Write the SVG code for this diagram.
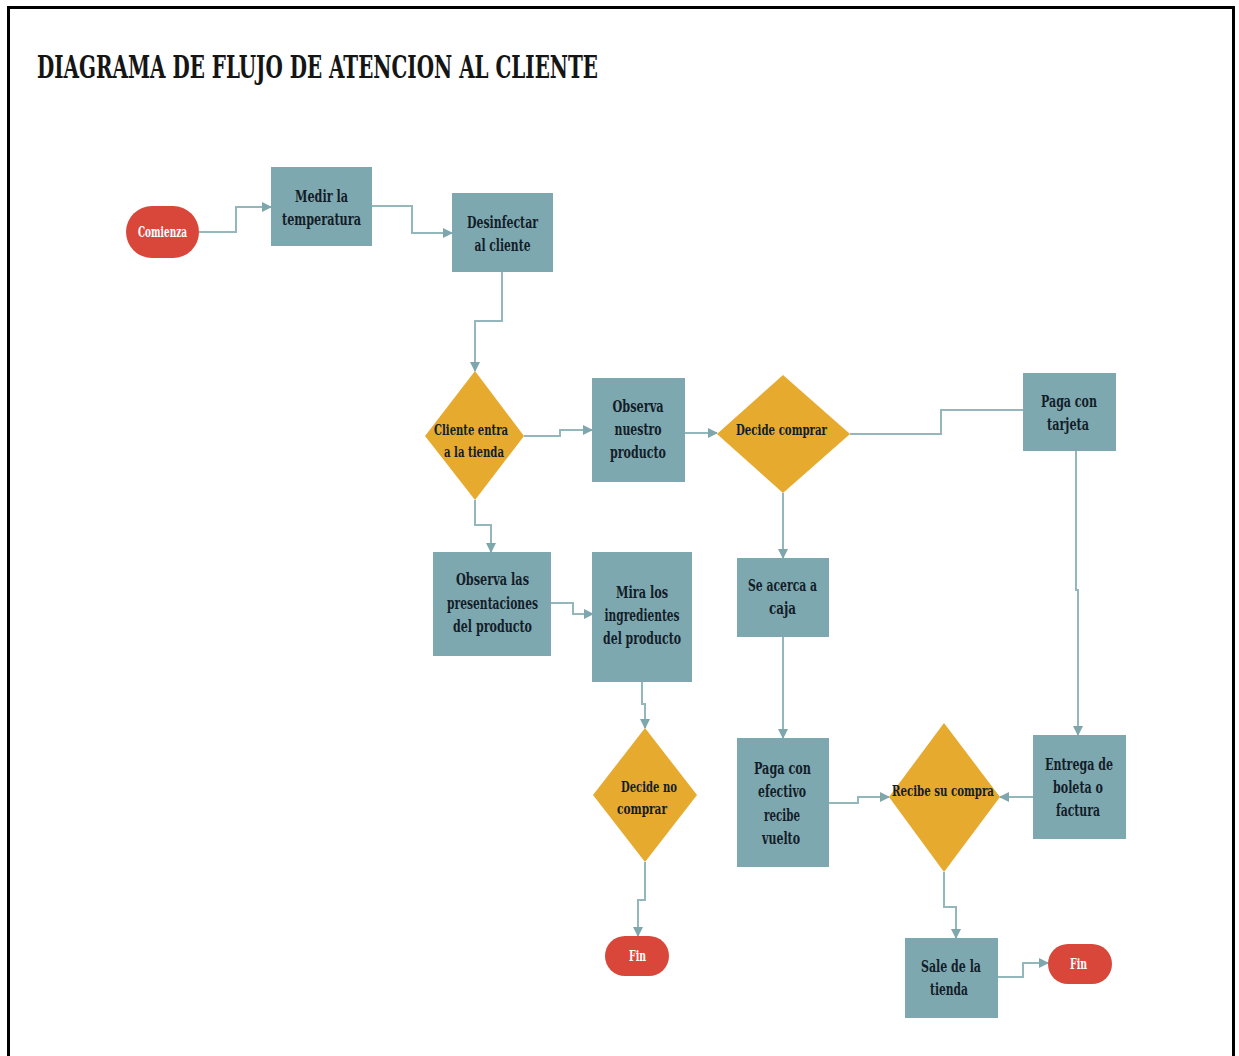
<svg xmlns="http://www.w3.org/2000/svg" width="1239" height="1056" viewBox="0 0 1239 1056">
<style>
.box{fill:#7ea8af}
.dia{fill:#e6aa2f}
.pill{fill:#d8473a}
.t{font-family:"DejaVu Serif Condensed","DejaVu Serif","Liberation Serif",serif;font-weight:bold;font-size:17px;fill:#131d29}
.d{font-size:15px}
.w{font-family:"DejaVu Serif Condensed","DejaVu Serif","Liberation Serif",serif;font-weight:bold;font-size:14px;fill:#ffffff}
.title{font-family:"DejaVu Serif Condensed","DejaVu Serif","Liberation Serif",serif;font-weight:bold;font-size:32px;fill:#151515}
.c{fill:none;stroke:#94b7bc;stroke-width:2}
</style>
<defs>
<marker id="ah" viewBox="0 0 10 10" refX="9" refY="5" markerWidth="10" markerHeight="10" markerUnits="userSpaceOnUse" orient="auto">
<path d="M0,0 L10,5 L0,10 Z" fill="#7ea6ad"/>
</marker>
</defs>
<rect x="0" y="0" width="1239" height="1056" fill="#ffffff"/>
<path d="M8.5,1060 V7.5 H1233.5 V1060" fill="none" stroke="#000000" stroke-width="3"/>
<text class="title" x="37" y="78" textLength="561" lengthAdjust="spacingAndGlyphs">DIAGRAMA DE FLUJO DE ATENCION AL CLIENTE</text>

<g id="connectors">
<path class="c" d="M199,232 H236 V207 H271" marker-end="url(#ah)"/>
<path class="c" d="M372,206 H412 V233 H452" marker-end="url(#ah)"/>
<path class="c" d="M502,272 V321 H475 V371" marker-end="url(#ah)"/>
<path class="c" d="M524,436 H560 V430 H592" marker-end="url(#ah)"/>
<path class="c" d="M685,433 H717" marker-end="url(#ah)"/>
<path class="c" d="M850,434 H941 V410 H1023"/>
<path class="c" d="M1076,451 V590 H1078 V735" marker-end="url(#ah)"/>
<path class="c" d="M475,500 V525 H491 V552" marker-end="url(#ah)"/>
<path class="c" d="M551,603 H573 V614 H593" marker-end="url(#ah)"/>
<path class="c" d="M783,493 V558" marker-end="url(#ah)"/>
<path class="c" d="M783,637 V738" marker-end="url(#ah)"/>
<path class="c" d="M642,682 V704 H645 V728" marker-end="url(#ah)"/>
<path class="c" d="M645,862 V900 H638 V936" marker-end="url(#ah)"/>
<path class="c" d="M829,803 H858 V797 H889" marker-end="url(#ah)"/>
<path class="c" d="M1033,797 H1000" marker-end="url(#ah)"/>
<path class="c" d="M944,872 V907 H956 V938" marker-end="url(#ah)"/>
<path class="c" d="M998,977 H1023 V963 H1048" marker-end="url(#ah)"/>
</g>

<g id="comienza">
<rect class="pill" x="126" y="206" width="73" height="52" rx="26"/>
<text class="w" x="162.5" y="237" text-anchor="middle" textLength="49" lengthAdjust="spacingAndGlyphs">Comienza</text>
</g>
<g id="medir">
<rect class="box" x="271" y="167" width="101" height="79"/>
<text class="t" x="321.5" y="202" text-anchor="middle" textLength="53" lengthAdjust="spacingAndGlyphs">Medir la</text>
<text class="t" x="321.5" y="225" text-anchor="middle" textLength="79" lengthAdjust="spacingAndGlyphs">temperatura</text>
</g>
<g id="desinfectar">
<rect class="box" x="452" y="193" width="101" height="79"/>
<text class="t" x="502.5" y="228" text-anchor="middle" textLength="71" lengthAdjust="spacingAndGlyphs">Desinfectar</text>
<text class="t" x="502.5" y="251" text-anchor="middle" textLength="56" lengthAdjust="spacingAndGlyphs">al cliente</text>
</g>
<g id="cliente-entra">
<polygon class="dia" points="475,371 524,436 475,500 425,436"/>
<text class="t d" x="471" y="435" text-anchor="middle" textLength="74" lengthAdjust="spacingAndGlyphs">Cliente entra</text>
<text class="t d" x="474" y="457" text-anchor="middle" textLength="60" lengthAdjust="spacingAndGlyphs">a la tienda</text>
</g>
<g id="observa-nuestro">
<rect class="box" x="592" y="378" width="93" height="104"/>
<text class="t" x="638" y="412" text-anchor="middle" textLength="51" lengthAdjust="spacingAndGlyphs">Observa</text>
<text class="t" x="638" y="435" text-anchor="middle" textLength="47" lengthAdjust="spacingAndGlyphs">nuestro</text>
<text class="t" x="638" y="458" text-anchor="middle" textLength="56" lengthAdjust="spacingAndGlyphs">producto</text>
</g>
<g id="decide-comprar">
<polygon class="dia" points="783,375 850,434 783,493 717,434"/>
<text class="t d" x="781.5" y="435" text-anchor="middle" textLength="91" lengthAdjust="spacingAndGlyphs">Decide comprar</text>
</g>
<g id="paga-tarjeta">
<rect class="box" x="1023" y="373" width="93" height="78"/>
<text class="t" x="1069" y="407" text-anchor="middle" textLength="56" lengthAdjust="spacingAndGlyphs">Paga con</text>
<text class="t" x="1068" y="430" text-anchor="middle" textLength="42" lengthAdjust="spacingAndGlyphs">tarjeta</text>
</g>
<g id="observa-presentaciones">
<rect class="box" x="433" y="552" width="118" height="104"/>
<text class="t" x="492.5" y="585" text-anchor="middle" textLength="73" lengthAdjust="spacingAndGlyphs">Observa las</text>
<text class="t" x="492.5" y="609" text-anchor="middle" textLength="91" lengthAdjust="spacingAndGlyphs">presentaciones</text>
<text class="t" x="492.5" y="632" text-anchor="middle" textLength="79" lengthAdjust="spacingAndGlyphs">del producto</text>
</g>
<g id="mira-ingredientes">
<rect class="box" x="592" y="552" width="100" height="130"/>
<text class="t" x="642" y="598" text-anchor="middle" textLength="52" lengthAdjust="spacingAndGlyphs">Mira los</text>
<text class="t" x="642" y="621" text-anchor="middle" textLength="75" lengthAdjust="spacingAndGlyphs">ingredientes</text>
<text class="t" x="642" y="644" text-anchor="middle" textLength="78" lengthAdjust="spacingAndGlyphs">del producto</text>
</g>
<g id="se-acerca">
<rect class="box" x="737" y="558" width="92" height="79"/>
<text class="t" x="782.5" y="591" text-anchor="middle" textLength="69" lengthAdjust="spacingAndGlyphs">Se acerca a</text>
<text class="t" x="782.5" y="614" text-anchor="middle" textLength="27" lengthAdjust="spacingAndGlyphs">caja</text>
</g>
<g id="decide-no">
<polygon class="dia" points="645,728 697,795 645,862 593,795"/>
<text class="t d" x="649" y="792" text-anchor="middle" textLength="56" lengthAdjust="spacingAndGlyphs">Decide no</text>
<text class="t d" x="642" y="814" text-anchor="middle" textLength="50" lengthAdjust="spacingAndGlyphs">comprar</text>
</g>
<g id="paga-efectivo">
<rect class="box" x="737" y="738" width="92" height="129"/>
<text class="t" x="782.5" y="774" text-anchor="middle" textLength="57" lengthAdjust="spacingAndGlyphs">Paga con</text>
<text class="t" x="782" y="797" text-anchor="middle" textLength="48" lengthAdjust="spacingAndGlyphs">efectivo</text>
<text class="t" x="782" y="821" text-anchor="middle" textLength="36" lengthAdjust="spacingAndGlyphs">recibe</text>
<text class="t" x="781" y="844" text-anchor="middle" textLength="38" lengthAdjust="spacingAndGlyphs">vuelto</text>
</g>
<g id="recibe-compra">
<polygon class="dia" points="944,723 1000,797 944,872 889,797"/>
<text class="t d" x="943" y="796" text-anchor="middle" textLength="102" lengthAdjust="spacingAndGlyphs">Recibe su compra</text>
</g>
<g id="entrega-boleta">
<rect class="box" x="1033" y="735" width="93" height="104"/>
<text class="t" x="1079" y="770" text-anchor="middle" textLength="68" lengthAdjust="spacingAndGlyphs">Entrega de</text>
<text class="t" x="1078" y="793" text-anchor="middle" textLength="50" lengthAdjust="spacingAndGlyphs">boleta o</text>
<text class="t" x="1078" y="816" text-anchor="middle" textLength="44" lengthAdjust="spacingAndGlyphs">factura</text>
</g>
<g id="fin-1">
<rect class="pill" x="605" y="936" width="64" height="40" rx="20"/>
<text class="w" x="637.5" y="961" text-anchor="middle" textLength="17" lengthAdjust="spacingAndGlyphs">Fin</text>
</g>
<g id="sale-tienda">
<rect class="box" x="905" y="938" width="93" height="80"/>
<text class="t" x="951" y="972" text-anchor="middle" textLength="60" lengthAdjust="spacingAndGlyphs">Sale de la</text>
<text class="t" x="949" y="995" text-anchor="middle" textLength="38" lengthAdjust="spacingAndGlyphs">tienda</text>
</g>
<g id="fin-2">
<rect class="pill" x="1048" y="944" width="64" height="40" rx="20"/>
<text class="w" x="1078.5" y="969" text-anchor="middle" textLength="17" lengthAdjust="spacingAndGlyphs">Fin</text>
</g>
</svg>
